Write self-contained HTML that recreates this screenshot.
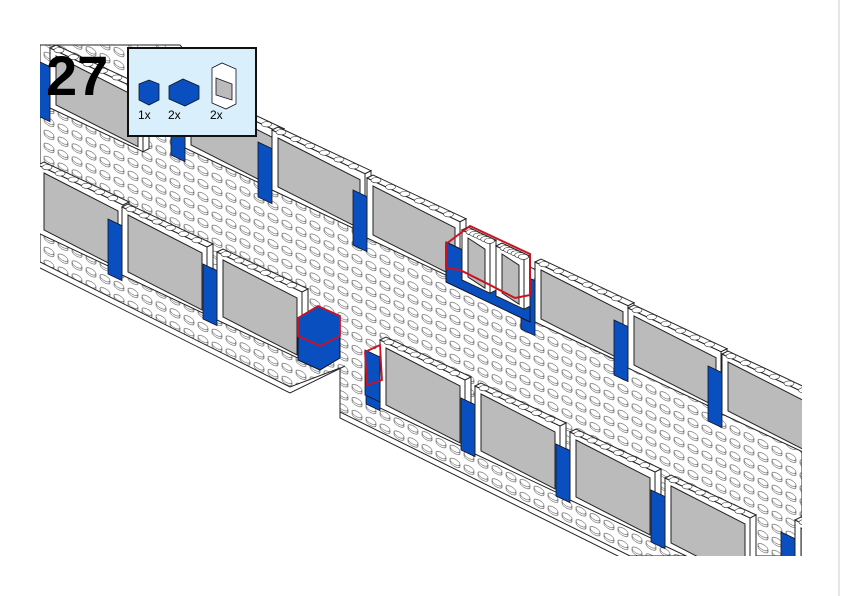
<!DOCTYPE html>
<html><head><meta charset="utf-8"><style>
html,body{margin:0;padding:0;background:#fff;}
body{width:842px;height:596px;overflow:hidden;position:relative;font-family:"Liberation Sans",sans-serif;}
svg{position:absolute;left:0;top:0;}
</style></head><body>
<svg id="s" width="842" height="596" viewBox="0 0 842 596" xmlns="http://www.w3.org/2000/svg">
<defs>
<pattern id="studs" width="14" height="13" patternUnits="userSpaceOnUse" patternTransform="skewY(26)">
<rect width="14" height="13" fill="#fff"/>
<ellipse cx="7" cy="6" rx="5" ry="2.8" fill="#fff" stroke="#555" stroke-width="0.6"/>
<path d="M2 6 v2 a5 2.8 0 0 0 10 0 v-2" fill="none" stroke="#555" stroke-width="0.6"/>
</pattern>
<clipPath id="c"><rect x="40" y="0" width="762" height="556"/></clipPath>
</defs>
<g clip-path="url(#c)" id="g">
<polygon points="40,45 180,45 260,140 802,395 802,556 630,556 340,412 340,368 290,387 40,262" fill="url(#studs)" stroke="#222" stroke-width="1"/>
<polyline points="40,268 290,393 345,366" fill="none" stroke="#222" stroke-width="1"/>
<polyline points="340,412 340,418 630,562" fill="none" stroke="#222" stroke-width="1"/>
</g>
<line x1="839" y1="0" x2="839" y2="596" stroke="#ccc" stroke-width="1"/>
</svg>
<script>
var g=document.getElementById('g'),NS='http://www.w3.org/2000/svg';
function el(t,a){var e=document.createElementNS(NS,t);for(var k in a)e.setAttribute(k,a[k]);g.appendChild(e);return e;}
function P(a){return a.map(function(p){return p[0]+','+p[1]}).join(' ');}
var S=0.47;
function win(x,y,w,h){
 var d=w*S;
 el('polygon',{points:P([[x,y],[x+w,y+d],[x+w,y+d+h],[x,y+h]]),fill:'#fff',stroke:'#222','stroke-width':1});
 el('polygon',{points:P([[x+w,y+d],[x+w+6,y+d-3],[x+w+6,y+d+h-3],[x+w,y+d+h]]),fill:'#fff',stroke:'#222','stroke-width':1});
 el('polygon',{points:P([[x,y],[x+6,y-3],[x+w+6,y+d-3],[x+w,y+d]]),fill:'#fff',stroke:'#222','stroke-width':1});
 el('polygon',{points:P([[x+6,y+8],[x+w-5,y+d+6],[x+w-5,y+d+h-5],[x+6,y+h-3]]),fill:'#bbb',stroke:'#222','stroke-width':1});
 for(var i=0;i<6;i++){var cx=x+9+i*(w-6)/6,cy=y-2+(cx-x)*S;el('ellipse',{cx:cx,cy:cy,rx:5,ry:2.6,fill:'#fff',stroke:'#333','stroke-width':0.6});}
}
function brick(x,y,w,h){
 el('polygon',{points:P([[x,y],[x+w,y+w*S],[x+w,y+w*S+h],[x,y+h]]),fill:'#0a4fc0',stroke:'#112','stroke-width':0.8});
}
[[50,48],[185,88],[272,130],[367,178],[535,262],[628,308],[722,354]].forEach(function(p){brick(p[0]-14,p[1]+12,14,55);win(p[0],p[1],93,60);});
el('polygon',{points:P([[446,242],[530,282],[530,322],[446,282]]),fill:'#0a4fc0',stroke:'#112','stroke-width':1});
win(462,230,28,50);win(496,246,28,50);
el('polygon',{points:P([[446,244],[462,232],[470,226],[530,254],[530,295],[515,298],[490,285],[460,270],[446,268]]),fill:'none',stroke:'#d01020','stroke-width':2});
[[38,165],[122,207],[217,252]].forEach(function(p){brick(p[0]-14,p[1]+12,14,55);win(p[0],p[1],85,68);});
el('polygon',{points:P([[298,318],[318,306],[340,316],[340,358],[320,370],[298,360]]),fill:'#0a4fc0',stroke:'#112','stroke-width':1});
el('polygon',{points:P([[298,318],[318,306],[340,316],[340,336],[320,346],[298,336]]),fill:'none',stroke:'#d01020','stroke-width':1.8});
[[380,340],[475,386],[570,432],[665,478],[795,520]].forEach(function(p){brick(p[0]-14,p[1]+12,14,52);win(p[0],p[1],85,68);});
brick(365,350,15,45);
el('polygon',{points:P([[365,352],[380,345],[382,380],[367,385]]),fill:'none',stroke:'#d01020','stroke-width':1.8});
</script>
<div style="position:absolute;left:127px;top:47px;width:126px;height:86px;background:#d9effb;border:2px solid #111;"></div>
<svg width="842" height="596" style="position:absolute;left:0;top:0">
<g stroke="#112" stroke-width="0.8">
<polygon points="139,84 149,80 159,84 159,100 149,105 139,100" fill="#0a4fc0"/>
<polygon points="169,86 183,79 199,86 199,99 185,106 169,99" fill="#0a4fc0"/>
<polygon points="212,68 222,63 236,69 236,104 226,109 212,103" fill="#fff"/>
<polygon points="216,78 232,84 232,100 216,95" fill="#bbb"/>
</g>
<text x="138" y="119" font-family="Liberation Sans" font-size="12">1x</text>
<text x="168" y="119" font-family="Liberation Sans" font-size="12">2x</text>
<text x="210" y="119" font-family="Liberation Sans" font-size="12">2x</text>
<text x="46" y="95" font-family="Liberation Sans" font-weight="bold" font-size="56" fill="#000">27</text>
</svg>
</body></html>
